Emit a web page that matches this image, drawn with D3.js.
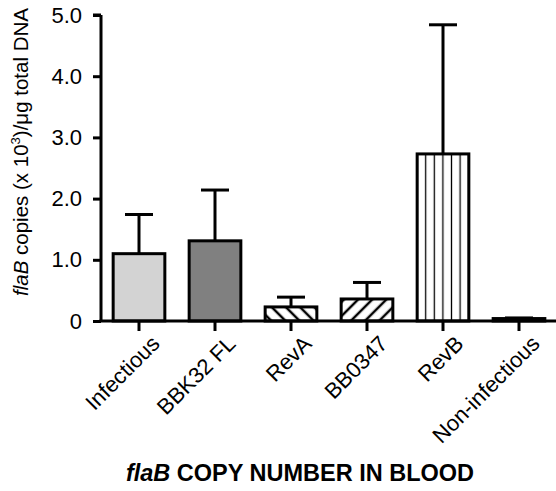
<!DOCTYPE html>
<html>
<head>
<meta charset="utf-8">
<script src="https://cdn.jsdelivr.net/npm/d3@7"></script>
<style>
  body { margin: 0; background: #fff; }
  text { font-family: "Liberation Sans", Arial, sans-serif; fill: #000; }
</style>
</head>
<body>
<div id="chart"></div>
<script>
var categories = ["Infectious", "BBK32 FL", "RevA", "BB0347", "RevB", "Non-infectious"];
var means = [1.1, 1.31, 0.23, 0.36, 2.73, 0.04];
var sem = [0.64, 0.83, 0.16, 0.27, 2.11, 0.01];
var fills = ["#d3d3d3", "#808080", "url(#diagDown)", "url(#diagUp)", "url(#vert)", "#fff"];
var yTicks = [0, 1, 2, 3, 4, 5];

var width = 556, height = 491;

var svg = d3.select("#chart")
    .append("svg")
    .attr("width", width)
    .attr("height", height);

var defs = svg.append("defs");

// hatch patterns
function hatch(id, angle, gap, sw) {
    var p = defs.append("pattern")
        .attr("id", id)
        .attr("patternUnits", "userSpaceOnUse")
        .attr("width", gap)
        .attr("height", gap)
        .attr("patternTransform", "rotate(" + angle + ")");
    p.append("rect").attr("width", gap).attr("height", gap).attr("fill", "#fff");
    p.append("line")
        .attr("x1", gap / 2).attr("y1", 0)
        .attr("x2", gap / 2).attr("y2", gap)
        .attr("stroke", "#000")
        .attr("stroke-width", sw);
}
hatch("diagDown", -45, 10, 2.5);
hatch("diagUp", 45, 10, 2.5);
hatch("vert", 0, 8.6, 1.3);

var x = d3.scaleBand()
    .domain(categories)
    .range([101, 557])
    .paddingInner(0.32)
    .paddingOuter(0.16);

var y = d3.scaleLinear()
    .domain([0, 5])
    .range([321, 15]);

// bars
var bars = svg.selectAll(".bar")
    .data(categories)
    .enter()
    .append("g")
    .attr("class", "bar");

bars.append("rect")
    .attr("x", function(d) { return x(d); })
    .attr("y", function(d, i) { return y(means[i]); })
    .attr("width", x.bandwidth())
    .attr("height", function(d, i) { return y(0) - y(means[i]); })
    .attr("fill", function(d, i) { return fills[i]; })
    .attr("stroke", "#000")
    .attr("stroke-width", 3);

// error bars (upper only)
bars.append("line")
    .attr("x1", function(d) { return x(d) + x.bandwidth() / 2; })
    .attr("x2", function(d) { return x(d) + x.bandwidth() / 2; })
    .attr("y1", function(d, i) { return y(means[i]); })
    .attr("y2", function(d, i) { return y(means[i] + sem[i]); })
    .attr("stroke", "#000")
    .attr("stroke-width", 3);

bars.append("line")
    .attr("x1", function(d) { return x(d) + x.bandwidth() / 2 - 14; })
    .attr("x2", function(d) { return x(d) + x.bandwidth() / 2 + 14; })
    .attr("y1", function(d, i) { return y(means[i] + sem[i]); })
    .attr("y2", function(d, i) { return y(means[i] + sem[i]); })
    .attr("stroke", "#000")
    .attr("stroke-width", 3);

// y axis
var yAxis = svg.append("g")
    .attr("transform", "translate(101,0)")
    .call(d3.axisLeft(y)
        .tickValues(yTicks)
        .tickSize(8)
        .tickPadding(11)
        .tickFormat(function(d) { return d === 0 ? "0" : d3.format(".1f")(d); }));

yAxis.select(".domain").attr("d", "M0," + y(5) + "H-8M0," + y(5) + "V" + y(0));
yAxis.selectAll("path, line").attr("stroke", "#000").attr("stroke-width", 3);
yAxis.selectAll("text")
    .attr("font-size", 22)
    .attr("font-family", "Liberation Sans, Arial, sans-serif");

// x axis
var xAxis = svg.append("g")
    .attr("transform", "translate(0," + y(0) + ")")
    .call(d3.axisBottom(x).tickSize(10).tickSizeOuter(0));

xAxis.select(".domain").attr("d", "M99.5,0H556");
xAxis.selectAll("path, line").attr("stroke", "#000").attr("stroke-width", 3);
xAxis.selectAll("text")
    .attr("font-size", 22)
    .attr("font-family", "Liberation Sans, Arial, sans-serif")
    .attr("text-anchor", "end")
    .attr("dy", null)
    .attr("y", null)
    .attr("transform", "translate(22,24) rotate(-45)");

// y label
var yl = svg.append("text")
    .attr("transform", "translate(28,152) rotate(-90)")
    .attr("text-anchor", "middle")
    .attr("font-size", 20.5);
yl.append("tspan").attr("font-style", "italic").text("flaB");
yl.append("tspan").text(" copies (x 10");
yl.append("tspan").attr("font-size", 13).attr("dy", -8).text("3");
yl.append("tspan").attr("dy", 8).text(")/μg total DNA");

// title
var t = svg.append("text")
    .attr("x", 300)
    .attr("y", 481)
    .attr("text-anchor", "middle")
    .attr("font-size", 23.5)
    .attr("font-weight", "bold");
t.append("tspan").attr("font-style", "italic").text("flaB");
t.append("tspan").text(" COPY NUMBER IN BLOOD");
</script>
</body>
</html>
